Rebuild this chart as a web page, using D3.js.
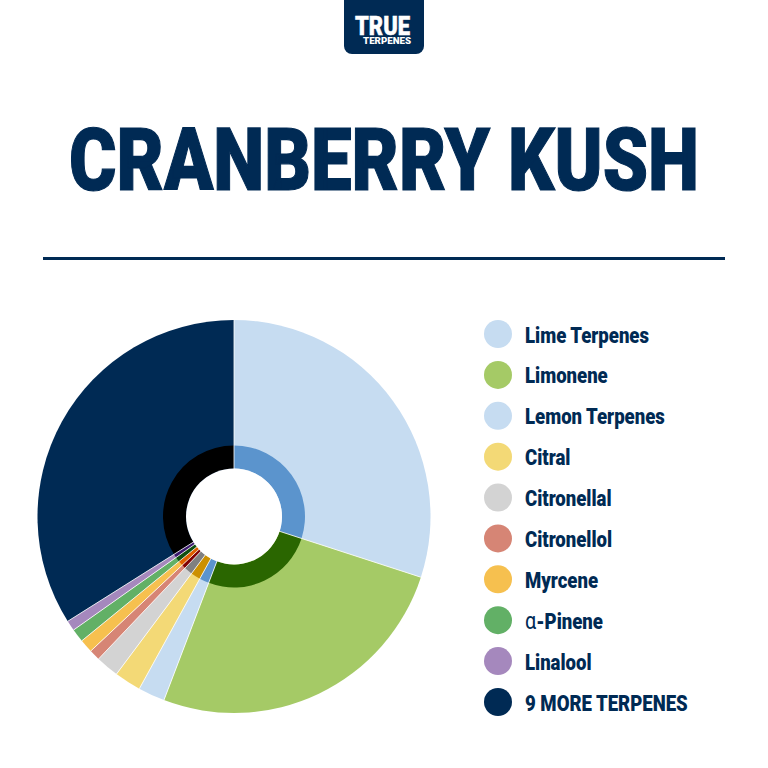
<!DOCTYPE html>
<html>
<head>
<meta charset="utf-8">
<script src="https://cdnjs.cloudflare.com/ajax/libs/d3/7.8.5/d3.min.js"></script>
<style>
  html, body { margin: 0; padding: 0; background: #fff; }
  svg { display: block; }
  text { font-family: Roboto, "Liberation Sans", sans-serif; }
</style>
</head>
<body>
<svg id="chart" width="768" height="768"></svg>
<script>
// Data
var terpenes = ["Lime Terpenes", "Limonene", "Lemon Terpenes", "Citral", "Citronellal",
                "Citronellol", "Myrcene", "α-Pinene", "Linalool", "9 MORE TERPENES"];
var shares = [30, 25.8, 2.2, 2.2, 1.9, 0.9, 1.1, 1.1, 0.85, 33.95];

// Colours
var navy = "#002a54";
var outerColors = ["#c6dcf1", "#a5ca66", "#c6dcf1", "#f3d976", "#d3d3d3",
                   "#d68575", "#f6c04f", "#62b066", "#a588bd", navy];
var innerColors = ["#5b94cd", "#2a6600", "#5b94cd", "#cc9000", "#808080",
                   "#800000", "#e06000", "#0f4f10", "#3c1a6e", "#000000"];

var svg = d3.select("#chart");

// Logo tab
var logo = d3.path();
logo.moveTo(344, 0);
logo.lineTo(424, 0);
logo.lineTo(424, 46);
logo.arcTo(424, 54, 416, 54, 8);
logo.lineTo(352, 54);
logo.arcTo(344, 54, 344, 46, 8);
logo.closePath();
svg.append("path").attr("d", logo.toString()).attr("fill", navy);

svg.append("text")
    .attr("x", 355).attr("y", 35)
    .attr("textLength", 55).attr("lengthAdjust", "spacingAndGlyphs")
    .attr("font-size", 26).attr("font-weight", 900)
    .attr("fill", "#fff").attr("stroke", "#fff").attr("stroke-width", 0.5)
    .text("TRUE");
svg.append("text")
    .attr("x", 363).attr("y", 43.5)
    .attr("textLength", 48).attr("lengthAdjust", "spacingAndGlyphs")
    .attr("font-size", 9.5).attr("font-weight", 900)
    .attr("fill", "#fff")
    .text("TERPENES");

// Title
svg.append("text")
    .attr("x", 69).attr("y", 190)
    .attr("textLength", 630).attr("lengthAdjust", "spacingAndGlyphs")
    .attr("font-size", 88).attr("font-weight", 900)
    .attr("fill", navy).attr("stroke", navy).attr("stroke-width", 1.2)
    .text("CRANBERRY KUSH");

// Divider
svg.append("line")
    .attr("x1", 43).attr("x2", 725)
    .attr("y1", 258.5).attr("y2", 258.5)
    .attr("stroke", navy).attr("stroke-width", 3);

// Pie
var outerScale = d3.scaleOrdinal().domain(terpenes).range(outerColors);
var innerScale = d3.scaleOrdinal().domain(terpenes).range(innerColors);

var pie = d3.pie().sort(null).value(function (d, i) { return shares[i]; });
var slices = pie(terpenes);

var outerArc = d3.arc().innerRadius(0).outerRadius(196.5);
var innerArc = d3.arc().innerRadius(48).outerRadius(71);

var pieG = svg.append("g").attr("transform", "translate(234,516.5)");

pieG.selectAll("path.outer")
    .data(slices)
    .enter().append("path")
    .attr("class", "outer")
    .attr("d", outerArc)
    .attr("fill", function (d) { return outerScale(d.data); });

pieG.selectAll("path.inner")
    .data(slices)
    .enter().append("path")
    .attr("class", "inner")
    .attr("d", innerArc)
    .attr("fill", function (d) { return innerScale(d.data); });

// thin white lines between the slices
pieG.selectAll("line.sep")
    .data(slices)
    .enter().append("line")
    .attr("class", "sep")
    .attr("x2", function (d) { return d3.pointRadial(d.startAngle, 196.5)[0]; })
    .attr("y2", function (d) { return d3.pointRadial(d.startAngle, 196.5)[1]; })
    .attr("stroke", "#fff").attr("stroke-width", 0.8);

pieG.append("circle").attr("r", 48).attr("fill", "#fff");

// Legend
var legendY = d3.scalePoint().domain(terpenes).range([334, 702]);

var rows = svg.selectAll("g.row")
    .data(terpenes)
    .enter().append("g")
    .attr("class", "row")
    .attr("transform", function (d) { return "translate(0," + legendY(d) + ")"; });

rows.append("circle")
    .attr("cx", 498).attr("r", 14)
    .attr("fill", function (d) { return outerScale(d); });

var labels = rows.append("text")
    .attr("transform", "translate(525,8.5) scale(0.825,1)")
    .attr("font-size", 22.5).attr("font-weight", 900)
    .attr("fill", navy);

labels.each(function (d) {
    var t = d3.select(this);
    if (d.charAt(0) === "α") {
        t.append("tspan").attr("font-weight", 400).attr("font-size", 24).text("α");
        t.append("tspan").text(d.slice(1));
    } else {
        t.text(d);
    }
});
</script>
</body>
</html>
